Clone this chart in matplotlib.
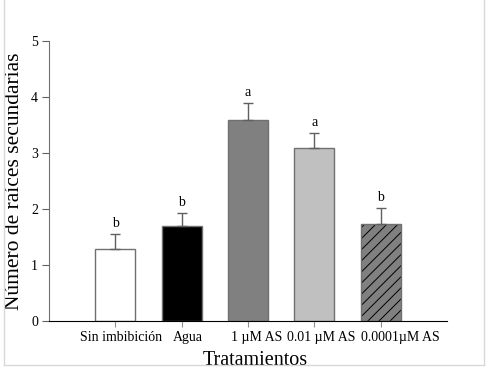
import matplotlib
matplotlib.use("Agg")
import matplotlib.pyplot as plt
from matplotlib.lines import Line2D
from matplotlib.transforms import ScaledTranslation
import numpy as np

categories = ["Sin imbibición", "Agua", "1 µM AS", "0.01 µM AS", "0.0001µM AS"]
values = [1.29, 1.70, 3.59, 3.09, 1.74]
errors = [0.26, 0.22, 0.30, 0.26, 0.27]
letters = ["b", "b", "a", "a", "b"]
colors = ["#ffffff", "#000000", "#808080", "#c0c0c0", "#808080"]
hatches = [None, None, None, None, "///"]
label_shift_px = [6, 6, 9, 7, 20]

plt.rcParams['font.family'] = ['Liberation Serif', 'DejaVu Serif']
plt.rcParams['hatch.linewidth'] = 0.7

fig = plt.figure(figsize=(4.86, 3.79), dpi=100)
ax = fig.add_axes([0.1008, 0.153, 0.819, 0.739])

x = np.arange(len(categories))
for i in range(len(categories)):
    if hatches[i]:
        ax.bar(x[i], values[i], width=0.6, color=colors[i], edgecolor="#000000",
               linewidth=0, hatch=hatches[i], zorder=2)
        ax.bar(x[i], values[i], width=0.6, fill=False, edgecolor="#707070",
               linewidth=1.0, zorder=2.1)
    else:
        ax.bar(x[i], values[i], width=0.6, color=colors[i], edgecolor="#707070",
               linewidth=1.0, zorder=2)
    ax.errorbar(x[i], values[i], yerr=[[0], [errors[i]]], fmt="none",
                ecolor="#606060", elinewidth=1.0, capsize=3.3, capthick=1.0, zorder=3)
    ax.text(x[i], values[i] + errors[i] + 0.08, letters[i], ha="center",
            va="bottom", fontsize=10)

ax.set_xlim(-1, 5)
ax.set_ylim(0, 5)
ax.set_yticks([0, 1, 2, 3, 4, 5])
ax.set_xticks(x)
ax.set_xticklabels(categories, fontsize=10)
ax.tick_params(axis="y", labelsize=10, length=5, width=0.8, color="#606060", pad=3)
ax.tick_params(axis="x", length=4, width=0.8, color="#909090", pad=3)
for lab, dx in zip(ax.get_xticklabels(), label_shift_px):
    lab.set_transform(lab.get_transform() + ScaledTranslation(dx / 100, 0, fig.dpi_scale_trans))
for s in ["top", "right"]:
    ax.spines[s].set_visible(False)
ax.spines["left"].set_color("#707070")
ax.spines["bottom"].set_color("#000000")
ax.set_ylabel("Número de raíces secundarias", fontsize=15.5, labelpad=5)
ax.set_xlabel("Tratamientos", fontsize=14.5, labelpad=5)
ax.xaxis.label.set_transform(ax.xaxis.label.get_transform() + ScaledTranslation(7 / 100, 0, fig.dpi_scale_trans))

# light gray frame around figure
fc = "#d8d8d8"
fig.add_artist(Line2D([3.5/486, 3.5/486], [1 - 365/379, 1.0], color=fc, lw=1, transform=fig.transFigure))
fig.add_artist(Line2D([484/486, 484/486], [1 - 365/379, 1.0], color=fc, lw=1, transform=fig.transFigure))
fig.add_artist(Line2D([3.5/486, 484/486], [1 - 365/379, 1 - 365/379], color=fc, lw=1, transform=fig.transFigure))

fig.savefig("out.png", dpi=100)
